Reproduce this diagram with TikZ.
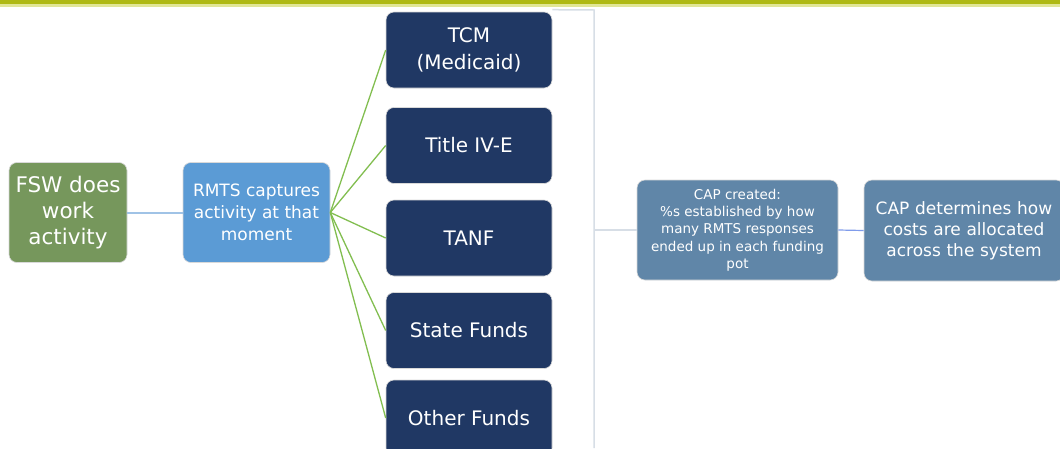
\documentclass[tikz,border=0pt]{standalone}
\usepackage{fontspec}
\setmainfont{DejaVu Sans}
\definecolor{fswgreen}{RGB}{118,151,92}
\definecolor{rmtsblue}{RGB}{91,155,213}
\definecolor{navy}{RGB}{32,56,100}
\definecolor{slate}{RGB}{96,134,168}
\definecolor{linegreen}{RGB}{130,190,80}
\definecolor{lightblue}{RGB}{160,195,230}
\definecolor{bracketgray}{RGB}{215,222,230}
\definecolor{bandolive}{RGB}{175,185,20}
\definecolor{bandlight}{RGB}{225,230,150}
\begin{document}
\begin{tikzpicture}[x=1pt,y=-1pt,
  box/.style={rectangle,rounded corners=8pt,draw=white!85!black,line width=0.6pt,text=white,align=center,inner sep=2pt},
  fund/.style={box,fill=navy,minimum width=166pt,minimum height=76pt,font=\fontsize{20}{27}\selectfont},
  greenline/.style={draw=linegreen,line width=1.3pt},
  blueline/.style={draw=lightblue,line width=2pt},
  grayline/.style={draw=bracketgray,line width=1.5pt}]
\useasboundingbox (0,0) rectangle (1060,448);
\clip (0,0) rectangle (1060,448);
\fill[white] (0,0) rectangle (1060,448);
\fill[bandlight] (0,3) rectangle (1060,7);
\fill[bandolive] (0,0) rectangle (1060,4);
% left boxes
\node[box,fill=fswgreen,minimum width=118pt,minimum height=100pt,font=\fontsize{21.5}{26}\selectfont] (fsw) at (68,212.5) {FSW does\\work\\activity};
\node[box,fill=rmtsblue,minimum width=147pt,minimum height=100pt,font=\fontsize{17}{22}\selectfont] (rmts) at (256.5,212.5) {RMTS captures\\activity at that\\moment};
% fund boxes
\node[fund] (tcm) at (469,50) {TCM\\(Medicaid)};
\node[fund] (t4e) at (469,145.5) {Title IV-E};
\node[fund] (tanf) at (469,238) {TANF};
\node[fund] (state) at (469,330.5) {State Funds};
\node[fund] (other) at (469,418) {Other Funds};
% right boxes
\node[box,fill=slate,minimum width=201pt,minimum height=100pt,font=\fontsize{13.5}{17.3}\selectfont] (cap) at (737.5,230) {CAP created:\\\%s established by how\\many RMTS responses\\ended up in each funding\\pot};
\node[box,fill=slate,minimum width=200pt,minimum height=101pt,font=\fontsize{17}{21}\selectfont,text width=196pt] (det) at (964,230.5) {CAP determines how\\costs are allocated\\across the system};
% connectors
\draw[blueline] (fsw.east) -- (rmts.west);
\coordinate (hub) at (rmts.east);
\foreach \n in {tcm,t4e,tanf,state,other} \draw[greenline] (hub) -- (\n.west);
\coordinate (btop) at (594,10);
\coordinate (bbot) at (594,448);
\coordinate (bmid) at (594,230);
\draw[grayline] (tcm.north east) ++(0,-2) -- (btop) -- (bbot);
\draw[grayline] (bmid) -- (cap.west);
\draw[draw=lightblue!80!blue,line width=1.2pt] (cap.east) -- (det.west);
\end{tikzpicture}
\end{document}
